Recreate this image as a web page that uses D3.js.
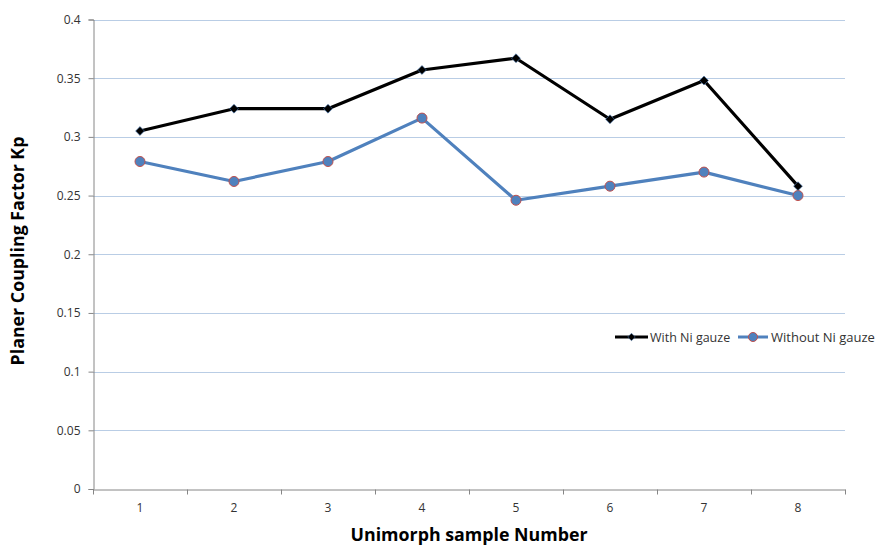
<!DOCTYPE html>
<html>
<head>
<meta charset="utf-8">
<script src="https://cdn.jsdelivr.net/npm/d3@7"></script>
<style>
  html, body { margin: 0; padding: 0; background: #fff; }
  svg { display: block; }
</style>
</head>
<body>
<svg id="chart" width="878" height="545"></svg>
<script>
// Sample numbers and coupling factors
const samples = ["1", "2", "3", "4", "5", "6", "7", "8"];
const withNiGauze = [0.305, 0.324, 0.324, 0.357, 0.367, 0.315, 0.348, 0.258];
const withoutNiGauze = [0.279, 0.262, 0.279, 0.316, 0.246, 0.258, 0.270, 0.250];
const yTicks = [0, 0.05, 0.1, 0.15, 0.2, 0.25, 0.3, 0.35, 0.4];
const seriesNames = ["With Ni gauze", "Without Ni gauze"];

const svg = d3.select("#chart");
const plotLeft = 93, plotRight = 845, plotTop = 19.5, plotBottom = 489;
const font = "'Open Sans', 'Liberation Sans', sans-serif";

const x = d3.scaleBand().domain(samples).range([plotLeft, plotRight]);
const y = d3.scaleLinear().domain([0, 0.4]).range([plotBottom, plotTop]);

// horizontal gridlines
svg.append("g").selectAll("line").data(yTicks.filter(d => d > 0)).join("line")
  .attr("x1", plotLeft).attr("x2", plotRight)
  .attr("y1", d => Math.round(y(d)) + 0.5).attr("y2", d => Math.round(y(d)) + 0.5)
  .attr("stroke", "#b9cde5").attr("stroke-width", 1);

// y axis
const yAxis = svg.append("g").attr("transform", `translate(${plotLeft + 0.5},0)`)
  .call(d3.axisLeft(y).tickValues(yTicks).tickSize(5).tickPadding(8)
    .tickFormat(d => d === 0 ? "0" : String(+d.toFixed(2))));
yAxis.select(".domain").attr("stroke", "#868686");
yAxis.selectAll(".tick line").attr("stroke", "#868686");
yAxis.selectAll(".tick text").attr("font-family", font).attr("font-size", 12).attr("fill", "#333");

// x axis
const xAxis = svg.append("g").attr("transform", `translate(0,${plotBottom + 0.5})`)
  .call(d3.axisBottom(x).tickSize(0).tickPadding(14));
xAxis.select(".domain").attr("stroke", "#868686");
xAxis.selectAll(".tick text").attr("font-family", font).attr("font-size", 12).attr("fill", "#333");
// tick marks at category boundaries
xAxis.append("g").selectAll("line").data(d3.range(samples.length + 1)).join("line")
  .attr("x1", i => Math.round(plotLeft + i * x.step()) + 0.5)
  .attr("x2", i => Math.round(plotLeft + i * x.step()) + 0.5)
  .attr("y1", 0).attr("y2", 5).attr("stroke", "#868686");

const cx = d => x(d) + x.bandwidth() / 2;
const line = d3.line().x(d => cx(d[0])).y(d => y(d[1]));

// series without gauze
svg.append("path").datum(samples.map((s, i) => [s, withoutNiGauze[i]]))
  .attr("d", line).attr("fill", "none").attr("stroke", "#4f81bd").attr("stroke-width", 3.2)
  .attr("stroke-linejoin", "round");
svg.append("g").selectAll("circle").data(samples.map((s, i) => [s, withoutNiGauze[i]])).join("circle")
  .attr("cx", d => cx(d[0])).attr("cy", d => y(d[1])).attr("r", 5)
  .attr("fill", "#4f81bd").attr("stroke", "#c0504d").attr("stroke-width", 1);

// series with gauze
svg.append("path").datum(samples.map((s, i) => [s, withNiGauze[i]]))
  .attr("d", line).attr("fill", "none").attr("stroke", "#000").attr("stroke-width", 3.2)
  .attr("stroke-linejoin", "round");
const diamond = d3.symbol().type(d3.symbolDiamond2).size(50);
svg.append("g").selectAll("path").data(samples.map((s, i) => [s, withNiGauze[i]])).join("path")
  .attr("d", diamond)
  .attr("transform", d => `translate(${cx(d[0])},${y(d[1])})`)
  .attr("fill", "#000").attr("stroke", "#4f81bd").attr("stroke-width", 0.6);

// legend
const lg = svg.append("g").attr("transform", "translate(0,337)");
lg.append("line").attr("x1", 615).attr("x2", 648).attr("stroke", "#000").attr("stroke-width", 3);
lg.append("path").attr("d", d3.symbol().type(d3.symbolDiamond2).size(36)).attr("transform", "translate(631.5,0)")
  .attr("fill", "#000").attr("stroke", "#4f81bd").attr("stroke-width", 0.5);
lg.append("text").attr("x", 650).attr("y", 4.5).text(seriesNames[0])
  .attr("font-family", font).attr("font-size", 12.5).attr("fill", "#333");
lg.append("line").attr("x1", 738).attr("x2", 768).attr("stroke", "#4f81bd").attr("stroke-width", 3);
lg.append("circle").attr("cx", 753).attr("cy", 0).attr("r", 4.5)
  .attr("fill", "#4f81bd").attr("stroke", "#c0504d").attr("stroke-width", 1);
lg.append("text").attr("x", 771).attr("y", 4.5).text(seriesNames[1])
  .attr("font-family", font).attr("font-size", 13).attr("fill", "#333");

// axis titles
svg.append("text").attr("x", 469).attr("y", 541).attr("text-anchor", "middle")
  .attr("font-family", font).attr("font-size", 17.8).attr("font-weight", "bold").attr("fill", "#000")
  .text("Unimorph sample Number");
svg.append("text").attr("transform", "translate(24,251) rotate(-90)").attr("text-anchor", "middle")
  .attr("font-family", font).attr("font-size", 17.8).attr("font-weight", "bold").attr("fill", "#000")
  .text("Planer Coupling Factor Kp");
</script>
</body>
</html>
